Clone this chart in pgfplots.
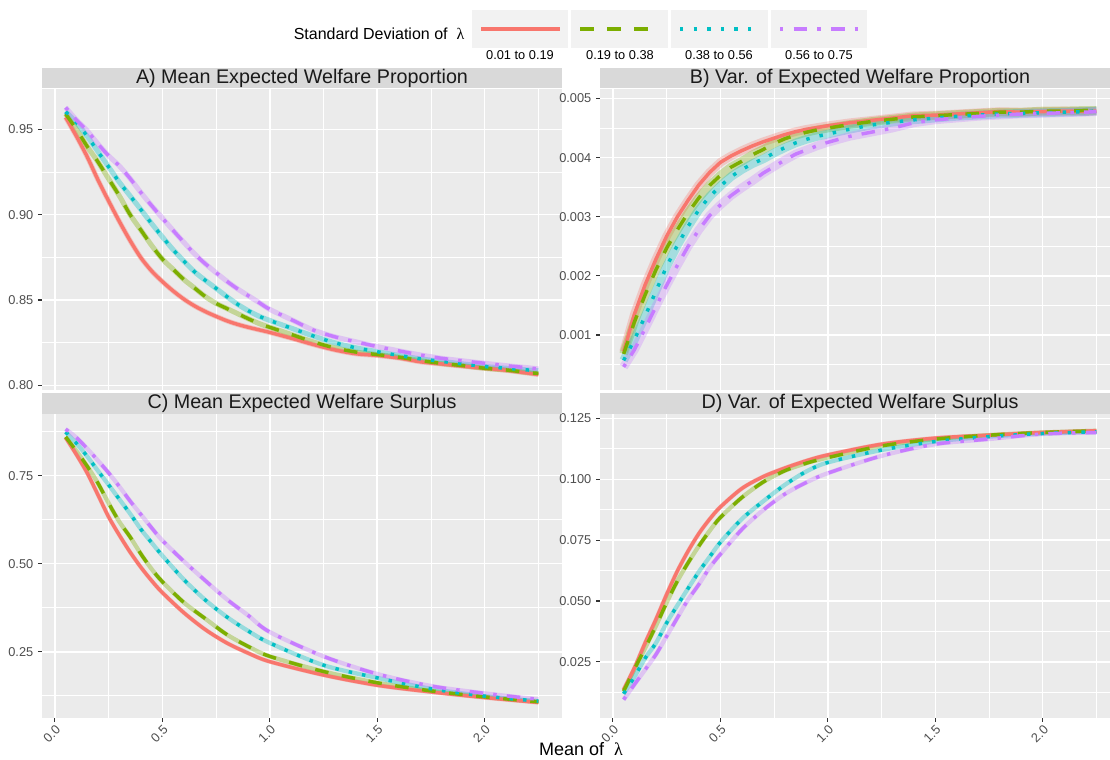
\documentclass[border=0pt]{standalone}
\usepackage{fontspec}
\setmainfont{Liberation Sans}
\newfontfamily\lamfont{Liberation Serif}
\usepackage{pgfplots}
\pgfplotsset{compat=1.18}
\usepackage{pgfplotstable}

\definecolor{cR}{HTML}{F8766D}
\definecolor{cG}{HTML}{7CAE00}
\definecolor{cC}{HTML}{00BFC4}
\definecolor{cP}{HTML}{C77CFF}
\definecolor{panelbg}{HTML}{EBEBEB}
\definecolor{stripbg}{HTML}{D9D9D9}
\definecolor{keybg}{HTML}{F2F2F2}
\definecolor{ticktext}{HTML}{4D4D4D}
\definecolor{tickline}{HTML}{333333}
\definecolor{striptext}{HTML}{1A1A1A}

\pgfplotstableread{
x r g c p
0.05 0.9570 0.9590 0.9603 0.9628
0.10 0.9460 0.9500 0.9540 0.9555
0.15 0.9340 0.9400 0.9460 0.9492
0.20 0.9205 0.9310 0.9370 0.9415
0.25 0.9080 0.9210 0.9280 0.9345
0.30 0.8960 0.9110 0.9190 0.9285
0.35 0.8848 0.9000 0.9110 0.9212
0.40 0.8748 0.8910 0.9030 0.9130
0.45 0.8670 0.8820 0.8948 0.9053
0.50 0.8608 0.8740 0.8870 0.8980
0.55 0.8553 0.8680 0.8795 0.8908
0.60 0.8505 0.8620 0.8728 0.8838
0.65 0.8465 0.8570 0.8665 0.8770
0.70 0.8432 0.8520 0.8615 0.8712
0.75 0.8404 0.8480 0.8568 0.8660
0.80 0.8378 0.8450 0.8520 0.8610
0.85 0.8357 0.8420 0.8475 0.8565
0.90 0.8340 0.8390 0.8437 0.8525
0.95 0.8325 0.8362 0.8405 0.8485
1.00 0.8310 0.8340 0.8380 0.8445
1.10 0.8276 0.8298 0.8335 0.8385
1.20 0.8240 0.8255 0.8290 0.8325
1.30 0.8208 0.8220 0.8250 0.8285
1.40 0.8185 0.8195 0.8220 0.8255
1.50 0.8175 0.8180 0.8197 0.8227
1.60 0.8160 0.8165 0.8175 0.8202
1.70 0.8138 0.8145 0.8155 0.8178
1.80 0.8125 0.8128 0.8140 0.8158
1.90 0.8112 0.8115 0.8125 0.8143
2.00 0.8100 0.8100 0.8110 0.8129
2.10 0.8088 0.8090 0.8100 0.8115
2.20 0.8072 0.8075 0.8090 0.8103
2.25 0.8063 0.8070 0.8085 0.8096
}\tabA

\pgfplotstableread{
x r g c p
0.05 0.00072 0.00068 0.00057 0.00046
0.10 0.00135 0.00122 0.00092 0.00075
0.15 0.00185 0.00168 0.00132 0.00111
0.20 0.00228 0.00210 0.00174 0.00148
0.25 0.00267 0.00247 0.00216 0.00184
0.30 0.00300 0.00278 0.00252 0.00218
0.35 0.00328 0.00307 0.00284 0.00250
0.40 0.00354 0.00332 0.00312 0.00278
0.45 0.00375 0.00353 0.00334 0.00302
0.50 0.00392 0.00370 0.00352 0.00320
0.55 0.00403 0.00384 0.00368 0.00336
0.60 0.00412 0.00394 0.00380 0.00349
0.65 0.00420 0.00405 0.00390 0.00361
0.70 0.00427 0.00414 0.00398 0.00374
0.75 0.00433 0.00424 0.00408 0.00385
0.80 0.00439 0.00432 0.00417 0.00396
0.85 0.00444 0.00438 0.00425 0.00406
0.90 0.00448 0.00443 0.00431 0.00413
0.95 0.00451 0.00447 0.00436 0.00420
1.00 0.00454 0.00450 0.00440 0.00426
1.10 0.00459 0.00456 0.00448 0.00436
1.20 0.00463 0.00461 0.00455 0.00443
1.30 0.00467 0.00465 0.00460 0.00450
1.40 0.00471 0.00469 0.00464 0.00459
1.50 0.00472 0.00471 0.00467 0.00464
1.60 0.00474 0.00473 0.00470 0.00467
1.70 0.00476 0.00475 0.00472 0.00470
1.80 0.00478 0.00477 0.00474 0.00472
1.90 0.00477 0.00477 0.00475 0.00474
2.00 0.00478 0.00479 0.00476 0.00475
2.10 0.00479 0.00479 0.00477 0.00476
2.20 0.00478 0.00480 0.00478 0.00477
2.25 0.00479 0.00480 0.00479 0.00478
}\tabB

\pgfplotstableread{
x r g c p
0.05 0.858 0.860 0.874 0.882
0.10 0.810 0.820 0.842 0.858
0.15 0.758 0.777 0.805 0.827
0.20 0.696 0.729 0.764 0.793
0.25 0.633 0.672 0.724 0.758
0.30 0.581 0.619 0.683 0.719
0.35 0.533 0.576 0.642 0.678
0.40 0.490 0.528 0.598 0.640
0.45 0.452 0.485 0.560 0.602
0.50 0.418 0.449 0.523 0.566
0.60 0.361 0.390 0.455 0.507
0.70 0.313 0.344 0.397 0.452
0.80 0.275 0.299 0.349 0.399
0.90 0.246 0.265 0.309 0.353
1.00 0.222 0.237 0.275 0.306
1.25 0.184 0.194 0.212 0.237
1.50 0.155 0.162 0.176 0.187
1.75 0.136 0.139 0.145 0.153
2.00 0.120 0.122 0.124 0.132
2.25 0.106 0.108 0.110 0.115
}\tabC

\pgfplotstableread{
x r g c p
0.05 0.0136 0.0130 0.0119 0.0095
0.10 0.0225 0.0220 0.0188 0.0157
0.15 0.0328 0.0307 0.0265 0.0218
0.20 0.0424 0.0397 0.0327 0.0280
0.25 0.0527 0.0493 0.0410 0.0355
0.30 0.0623 0.0582 0.0482 0.0431
0.35 0.0705 0.0657 0.0552 0.0506
0.40 0.0777 0.0726 0.0620 0.0568
0.45 0.0836 0.0788 0.0681 0.0637
0.50 0.0886 0.0843 0.0741 0.0692
0.60 0.0962 0.0925 0.0837 0.0794
0.70 0.1011 0.0989 0.0910 0.0874
0.80 0.1046 0.1035 0.0977 0.0939
0.90 0.1076 0.1066 0.1032 0.0987
1.00 0.1100 0.1089 0.1069 0.1025
1.25 0.1144 0.1137 0.1120 0.1096
1.50 0.1169 0.1165 0.1155 0.1144
1.75 0.1181 0.1181 0.1175 0.1165
2.00 0.1192 0.1192 0.1188 0.1186
2.25 0.1199 0.1199 0.1195 0.1192
}\tabD

\tikzset{
  lr/.style={cR, line width=2.6pt, line join=round},
  lg/.style={cG, line width=2.6pt, line join=round, dash pattern=on 10.2pt off 10.2pt},
  lc/.style={cC, line width=2.6pt, line join=round, dash pattern=on 2.6pt off 7.6pt},
  lp/.style={cP, line width=2.6pt, line join=round, dash pattern=on 2.6pt off 7.6pt on 10.2pt off 7.6pt},
}

\pgfplotsset{
  gg/.style={
    scale only axis,
    axis background/.style={fill=panelbg},
    axis line style={draw=none},
    grid=both,
    major grid style={white, line width=1.1pt},
    minor grid style={white, line width=0.55pt},
    minor tick length=0pt,
    major tick length=3pt,
    tick align=outside,
    tick pos=left,
    tick style={tickline, line width=0.8pt},
    tick label style={font=\fontsize{9.6}{10}\selectfont, text=ticktext},
    /pgf/number format/assume math mode=true,
    scaled y ticks=false,
    xmin=-0.06,
    xtick={0,0.5,1,1.5,2},
    minor xtick={0.25,0.75,1.25,1.75,2.25},
    no markers,
    clip=true,
  },
  ggtop/.style={xticklabels={}, xtick style={draw=none}},
  ggbot/.style={xticklabels={0.0,0.5,1.0,1.5,2.0},
    xticklabel style={rotate=45, anchor=north east, inner sep=1pt}},
  ggleft/.style={width=390pt, xmax=2.36},
  ggright/.style={width=382.5pt, xmax=2.313},
  rib/.style={opacity=0.35, line width=3.8pt},
}

\begin{document}
\begin{tikzpicture}
\useasboundingbox (0pt,0pt) rectangle (832.5pt,570pt);

% ---------- Panel A ----------
\begin{axis}[gg, ggtop, ggleft, at={(31.5pt,277.5pt)}, anchor=south west,
  height=226.1pt, ymin=0.79725, ymax=0.9739,
  ytick={0.80,0.85,0.90,0.95}, yticklabels={0.80,0.85,0.90,0.95},
  minor ytick={0.825,0.875,0.925}]
\addplot[cR, rib, smooth] table[x=x,y=r]{\tabA};
\addplot[cG, rib, smooth] table[x=x,y=g]{\tabA};
\addplot[cC, rib, smooth] table[x=x,y=c]{\tabA};
\addplot[cP, rib, smooth] table[x=x,y=p]{\tabA};
\addplot[lr, smooth] table[x=x,y=r]{\tabA};
\addplot[lg, smooth] table[x=x,y=g]{\tabA};
\addplot[lc, smooth] table[x=x,y=c]{\tabA};
\addplot[lp, smooth] table[x=x,y=p]{\tabA};
\end{axis}

% ---------- Panel B ----------
\begin{axis}[gg, ggtop, ggright, at={(450pt,277.5pt)}, anchor=south west,
  height=226.1pt, ymin=0.00007, ymax=0.00517,
  ytick={0.001,0.002,0.003,0.004,0.005},
  yticklabels={0.001,0.002,0.003,0.004,0.005},
  minor ytick={0.0005,0.0015,0.0025,0.0035,0.0045}]
\addplot[cR, opacity=0.3, line width=6.5pt] table[x=x,y=r]{\tabB};
\addplot[cG, opacity=0.3, line width=6.5pt] table[x=x,y=g]{\tabB};
\addplot[cC, opacity=0.3, line width=6.5pt] table[x=x,y=c]{\tabB};
\addplot[cP, opacity=0.3, line width=6.5pt] table[x=x,y=p]{\tabB};
\addplot[lr] table[x=x,y=r]{\tabB};
\addplot[lg] table[x=x,y=g]{\tabB};
\addplot[lc] table[x=x,y=c]{\tabB};
\addplot[lp] table[x=x,y=p]{\tabB};
\end{axis}

% ---------- Panel C ----------
\begin{axis}[gg, ggbot, ggleft, at={(31.5pt,31.5pt)}, anchor=south west,
  height=228pt, ymin=0.062, ymax=0.925,
  ytick={0.25,0.50,0.75}, yticklabels={0.25,0.50,0.75},
  minor ytick={0.125,0.375,0.625,0.875}]
\addplot[cR, rib, line width=3.2pt, smooth] table[x=x,y=r]{\tabC};
\addplot[cG, rib, line width=3.2pt, smooth] table[x=x,y=g]{\tabC};
\addplot[cC, rib, line width=3.2pt, smooth] table[x=x,y=c]{\tabC};
\addplot[cP, rib, line width=3.2pt, smooth] table[x=x,y=p]{\tabC};
\addplot[lr, smooth] table[x=x,y=r]{\tabC};
\addplot[lg, smooth] table[x=x,y=g]{\tabC};
\addplot[lc, smooth] table[x=x,y=c]{\tabC};
\addplot[lp, smooth] table[x=x,y=p]{\tabC};
\end{axis}

% ---------- Panel D ----------
\begin{axis}[gg, ggbot, ggright, at={(450pt,31.5pt)}, anchor=south west,
  height=228pt, ymin=0.00195, ymax=0.1268,
  ytick={0.025,0.05,0.075,0.1,0.125},
  yticklabels={0.025,0.050,0.075,0.100,0.125},
  minor ytick={0.0125,0.0375,0.0625,0.0875,0.1125}]
\addplot[cR, rib, line width=3.2pt, smooth] table[x=x,y=r]{\tabD};
\addplot[cG, rib, line width=3.2pt, smooth] table[x=x,y=g]{\tabD};
\addplot[cC, rib, line width=3.2pt, smooth] table[x=x,y=c]{\tabD};
\addplot[cP, rib, line width=3.2pt, smooth] table[x=x,y=p]{\tabD};
\addplot[lr, smooth] table[x=x,y=r]{\tabD};
\addplot[lg, smooth] table[x=x,y=g]{\tabD};
\addplot[lc, smooth] table[x=x,y=c]{\tabD};
\addplot[lp, smooth] table[x=x,y=p]{\tabD};
\end{axis}

\begin{scope}[x=0.75pt, y=0.75pt]
% ---------- Strips ----------
\fill[stripbg] (42,671.5) rectangle (562,692);
\fill[stripbg] (600,671.5) rectangle (1110,692);
\fill[stripbg] (42,346) rectangle (562,367);
\fill[stripbg] (600,346) rectangle (1110,367);
\node[font=\fontsize{14.8}{15}\selectfont, text=striptext] at (302,681.75) {A) Mean Expected Welfare Proportion};
\node[font=\fontsize{14.8}{15}\selectfont, text=striptext] at (860,681.75) {B) Var. of Expected Welfare Proportion};
\node[font=\fontsize{14.8}{15}\selectfont, text=striptext] at (302,356.5) {C) Mean Expected Welfare Surplus};
\node[font=\fontsize{14.8}{15}\selectfont, text=striptext] at (860,356.5) {D) Var. of Expected Welfare Surplus};

% ---------- Axis title ----------
\node[font=\fontsize{13.5}{14}\selectfont] at (581,11) {Mean of\ \ {\lamfont λ}};

% ---------- Legend ----------
\node[anchor=east, font=\fontsize{12}{13}\selectfont] at (469,726) {Standard Deviation of\ \ {\lamfont λ}};
\fill[keybg] (472,712) rectangle (568,750);
\fill[keybg] (571,712) rectangle (668,750);
\fill[keybg] (671,712) rectangle (768,750);
\fill[keybg] (771,712) rectangle (867,750);
\draw[lr] (481,731) -- (560,731);
\draw[lg] (580,731) -- (660,731);
\draw[lc] (680,731) -- (760,731);
\draw[lp] (780,731) -- (860,731);
\node[font=\fontsize{9.6}{10}\selectfont] at (520,705) {0.01 to 0.19};
\node[font=\fontsize{9.6}{10}\selectfont] at (620,705) {0.19 to 0.38};
\node[font=\fontsize{9.6}{10}\selectfont] at (719,705) {0.38 to 0.56};
\node[font=\fontsize{9.6}{10}\selectfont] at (819,705) {0.56 to 0.75};
\end{scope}
\end{tikzpicture}
\end{document}
